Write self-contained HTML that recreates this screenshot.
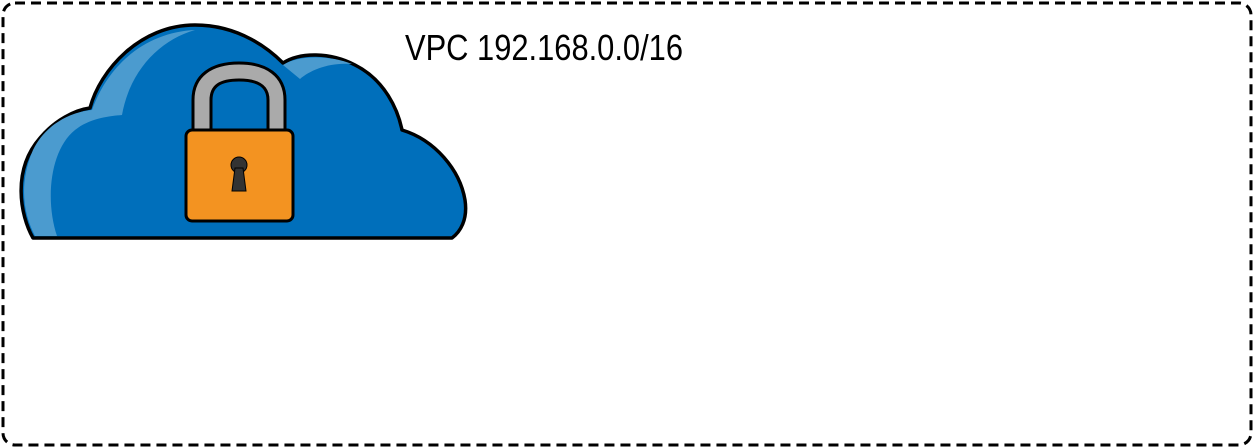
<!DOCTYPE html>
<html><head><style>
html,body{margin:0;padding:0;background:#fff;width:1254px;height:448px;overflow:hidden}
</style></head><body>
<svg width="1254" height="448" viewBox="0 0 1254 448" xmlns="http://www.w3.org/2000/svg">
<rect x="3" y="3" width="1248" height="442" rx="12" ry="12" fill="none" stroke="#000" stroke-width="3" stroke-dasharray="10,6"/>
<path d="M33,238 C20,215 12,170 40,138 C55,120 75,110 90,108 C100,70 140,25 195,25 C240,25 270,50 283,63 C300,52 330,52 355,65 C385,80 398,110 402,130 C435,140 460,170 465,200 C468,220 460,232 452,238 Z" fill="#006fbb" stroke="#000" stroke-width="3.5" stroke-linejoin="round"/>
<path d="M57,236 C45,200 50,150 75,130 C90,118 110,116 122,115 C130,70 160,40 195,30 C150,32 110,60 92,110 C70,112 45,125 33,150 C18,185 24,215 35,236 Z" fill="#4b9bcf"/>
<path d="M283,65 C298,55 330,55 352,64 C330,62 310,70 300,79 Z" fill="#4b9bcf"/>
<path d="M193,130 L193,100 C193,75 212,63 239,63 C266,63 285,75 285,100 L285,130 L268,130 L268,100 C268,86 258,80 239,80 C220,80 211,86 211,100 L211,130 Z" fill="#aaa" stroke="#000" stroke-width="3"/>
<rect x="186" y="130" width="107" height="91" rx="6" fill="#f39321" stroke="#000" stroke-width="3"/>
<circle cx="239" cy="165" r="8" fill="#333" stroke="#000" stroke-width="1"/>
<path d="M235,168 L243,168 L246,191 L232,191 Z" fill="#333" stroke="#000" stroke-width="1"/>
<text x="405" y="60" font-family="Liberation Sans Narrow, Liberation Sans, sans-serif" font-size="36" textLength="278" lengthAdjust="spacingAndGlyphs" fill="#000">VPC 192.168.0.0/16</text>
</svg>
</body></html>
